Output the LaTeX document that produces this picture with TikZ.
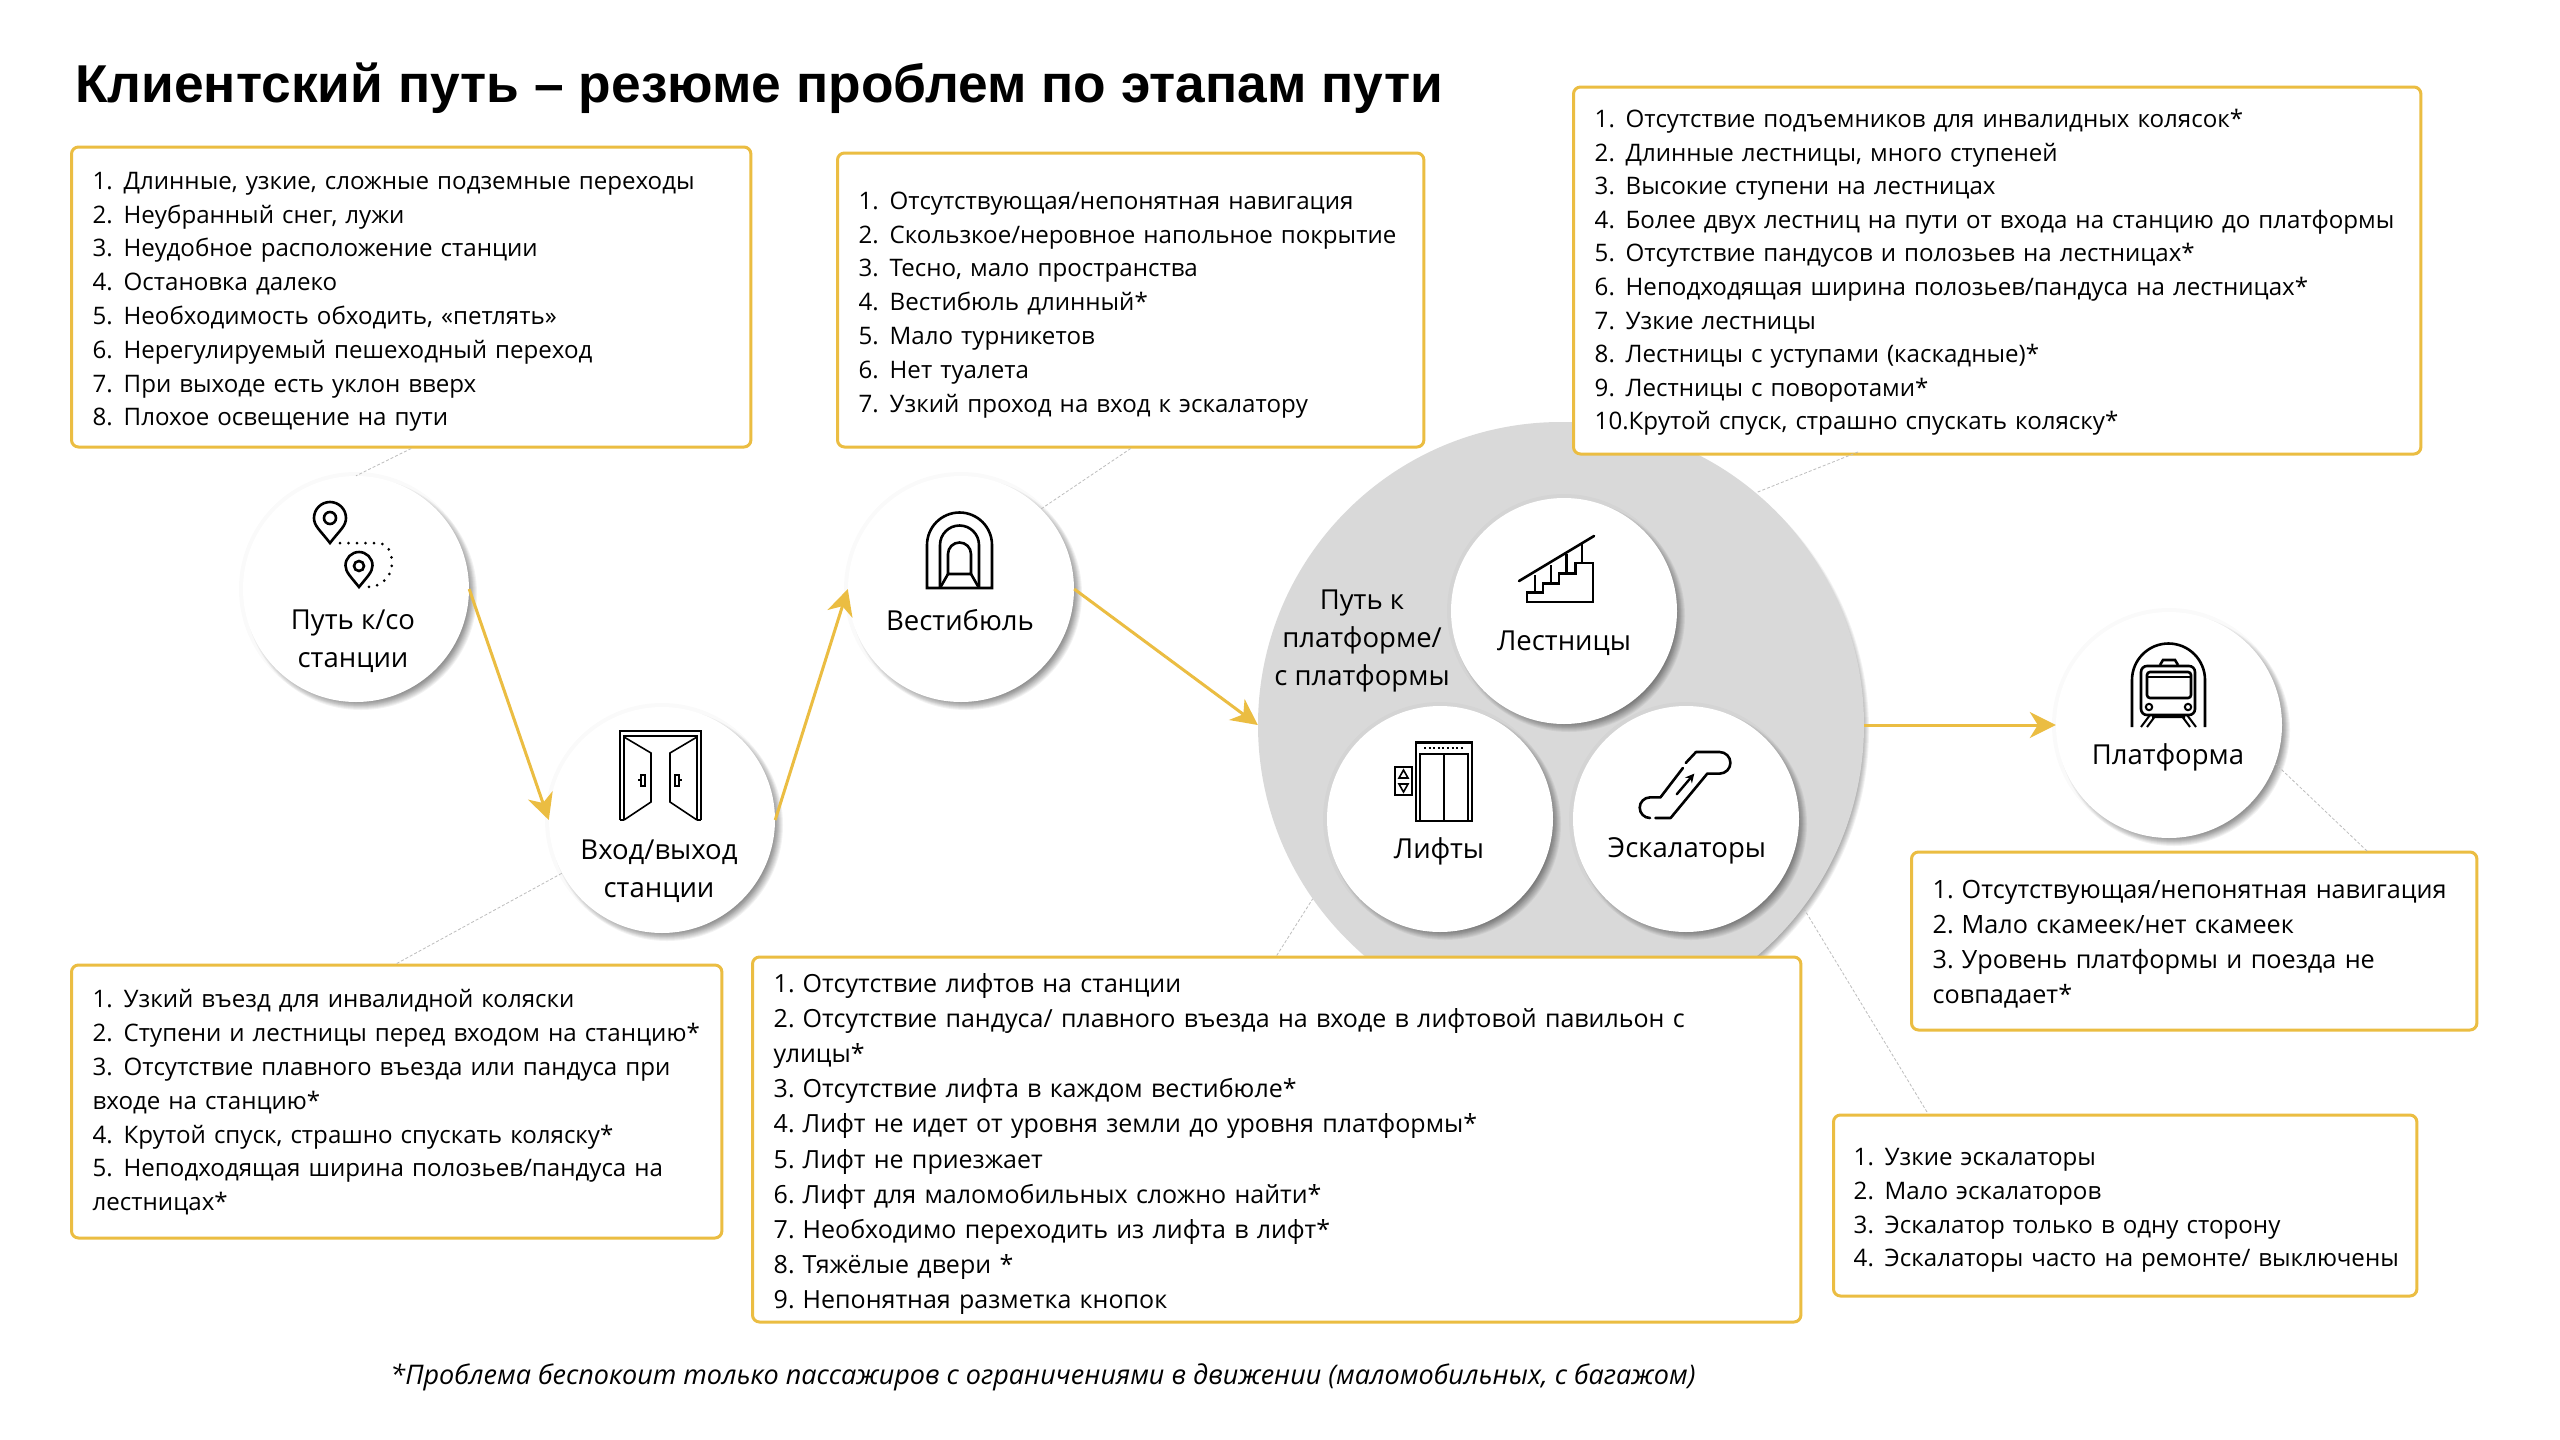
\documentclass[tikz,border=0pt]{standalone}
\usepackage{fontspec}
\setmainfont{Open Sans}
\newfontfamily\titlefont{Liberation Sans}
\usetikzlibrary{arrows.meta}
\definecolor{gold}{HTML}{EBBD42}
\definecolor{biggrey}{HTML}{D9D9D9}
\definecolor{leader}{HTML}{BDBDBD}
\newcommand{\li}[2]{\makebox[31pt][l]{#1.}#2}
\newcommand{\lj}[2]{\makebox[29pt][l]{#1.}#2}
\newcommand{\tall}[1]{\rule{0pt}{#1pt}}
\newcommand{\softshadow}[3]{%
  \foreach \i in {0,...,9}{\fill[black,opacity=.05] ({#1+5},{#2+5}) circle ({#3+3-\i});}%
  \fill[black,opacity=.02] (#1,#2) circle ({#3+4});}
\tikzset{
  x=1pt,y=-1pt,
  bodyfont/.style={font=\fontsize{24.1}{33.8}\selectfont},
  probbox/.style={draw=gold,line width=3pt,rounded corners=7pt,fill=white,anchor=north west,
    inner xsep=21pt,inner ysep=0pt,align=left,bodyfont},
  stopcircle/.style={circle,fill=white,minimum size=226pt,inner sep=0pt},
  biglabel/.style={font=\fontsize{27.5}{38}\selectfont,align=center,inner sep=0pt},
  flow/.style={draw=gold,line width=3pt,-{Stealth[length=26pt,width=26pt,inset=8pt]}},
  leaderline/.style={draw=leader,line width=.8pt,dash pattern=on 3pt off 2pt},
  icon/.style={draw=black,line width=2.6pt,line join=miter},
  iconthin/.style={draw=black,line width=1.6pt},
}
\begin{document}
\begin{tikzpicture}
\useasboundingbox (0,0) rectangle (2560,1440);
\fill[white] (0,0) rectangle (2560,1440);
% title
\node[anchor=base west,inner sep=0pt,font=\titlefont\bfseries\fontsize{53.3}{60}\selectfont] (title) at (75,102) {Клиентский путь – резюме проблем по этапам пути};
% big circle
\foreach \i in {0,...,9}{\fill[black,opacity=.05] ({1561+5},{725+5}) circle ({303-\i});}
\node[circle,fill=biggrey,minimum size=606pt,inner sep=0pt] (big) at (1561,725) {};
% circles
\softshadow{356}{589}{113}
\node[stopcircle] (c1) at (356,589) {};
\softshadow{662}{820}{113}
\node[stopcircle] (c2) at (662,820) {};
\softshadow{961}{589}{113}
\node[stopcircle] (c3) at (961,589) {};
\softshadow{1564}{611}{113}
\node[stopcircle] (stairs) at (1564,611) {};
\softshadow{1440}{819}{113}
\node[stopcircle] (lifts) at (1440,819) {};
\softshadow{1686}{819}{113}
\node[stopcircle] (esc) at (1686,819) {};
\softshadow{2169}{725}{113}
\node[stopcircle] (plat) at (2169,725) {};
% labels
\node[biglabel] (l1) at (353,641) {Путь к/со\\ станции};
\node[biglabel] (l2) at (659,871) {Вход/выход\\станции};
\node[biglabel] (l3) at (960,620) {Вестибюль};
\node[biglabel] (l4) at (1362,641) {Путь к\\платформе/\\с платформы};
\node[biglabel] (l5) at (1564,643) {Лестницы};
\node[biglabel] (l6) at (1439,851) {Лифты};
\node[biglabel] (l7) at (1687,851) {Эскалаторы};
\node[biglabel] (l8) at (2168,757) {Платформа};
% boxes
\node[probbox,minimum width=679.4pt,minimum height=300pt,text width=637pt] (box1) at (70,145.5) {%
\tall{27}\li{1}{Длинные, узкие, сложные подземные переходы}\\
\li{2}{Неубранный снег, лужи}\\
\li{3}{Неудобное расположение станции}\\
\li{4}{Остановка далеко}\\
\li{5}{Необходимость обходить, «петлять»}\\
\li{6}{Нерегулируемый пешеходный переход}\\
\li{7}{При выходе есть уклон вверх}\\
\li{8}{Плохое освещение на пути}};
\node[probbox,minimum width=586.4pt,minimum height=294pt,text width=544pt] (box2) at (836,151.5) {%
\tall{27}\li{1}{Отсутствующая/непонятная навигация}\\
\li{2}{\mbox{Скользкое/неровное напольное покрытие}}\\
\li{3}{Тесно, мало пространства}\\
\li{4}{Вестибюль длинный*}\\
\li{5}{Мало турникетов}\\
\li{6}{Нет туалета}\\
\li{7}{Узкий проход на вход к эскалатору}};
\node[probbox,minimum width=847.4pt,minimum height=367pt,text width=805pt,font=\fontsize{24.1}{33.6}\selectfont] (box3) at (1572,85.5) {%
\tall{22}\li{1}{Отсутствие подъемников для инвалидных колясок*}\\
\li{2}{Длинные лестницы, много ступеней}\\
\li{3}{Высокие ступени на лестницах}\\
\li{4}{Более двух лестниц на пути от входа на станцию до платформы}\\
\li{5}{Отсутствие пандусов и полозьев на лестницах*}\\
\li{6}{Неподходящая ширина полозьев/пандуса на лестницах*}\\
\li{7}{Узкие лестницы}\\
\li{8}{Лестницы с уступами (каскадные)*}\\
\li{9}{Лестницы с поворотами*}\\
10.Крутой спуск, страшно спускать коляску*};
\node[probbox,minimum width=650.4pt,minimum height=273pt,text width=608pt] (box4) at (70,963.5) {%
\tall{20}\li{1}{Узкий въезд для инвалидной коляски}\\
\li{2}{Ступени и лестницы перед входом на станцию*}\\
\li{3}{Отсутствие плавного въезда или пандуса при}\\
входе на станцию*\\
\li{4}{Крутой спуск, страшно спускать коляску*}\\
\li{5}{Неподходящая ширина полозьев/пандуса на}\\
лестницах*};
\node[probbox,minimum width=1048.4pt,minimum height=365pt,text width=1006pt,font=\fontsize{25}{35.2}\selectfont] (box5) at (751,955.5) {%
\tall{28}\lj{1}{Отсутствие лифтов на станции}\\
\lj{2}{Отсутствие пандуса/ плавного въезда на входе в лифтовой павильон с}\\
улицы*\\
\lj{3}{Отсутствие лифта в каждом вестибюле*}\\
\lj{4}{Лифт не идет от уровня земли до уровня платформы*}\\
\lj{5}{Лифт не приезжает}\\
\lj{6}{Лифт для маломобильных сложно найти*}\\
\lj{7}{Необходимо переходить из лифта в лифт*}\\
\lj{8}{Тяжёлые двери *}\\
\lj{9}{Непонятная разметка кнопок}};
\node[probbox,minimum width=565.4pt,minimum height=178pt,text width=523pt,font=\fontsize{25.2}{34.9}\selectfont] (box6) at (1910,850.5) {%
\tall{25}\lj{1}{Отсутствующая/непонятная навигация}\\
\lj{2}{Мало скамеек/нет скамеек}\\
\lj{3}{Уровень платформы и поезда не}\\
совпадает*};
\node[probbox,inner xsep=20pt,minimum width=583.4pt,minimum height=181pt,text width=543pt] (box7) at (1832,1113.5) {%
\tall{27}\li{1}{Узкие эскалаторы}\\
\li{2}{Мало эскалаторов}\\
\li{3}{Эскалатор только в одну сторону}\\
\li{4}{\mbox{Эскалаторы часто на ремонте/ выключены}}};
% footnote
\node[inner sep=0pt,font=\itshape\fontsize{27}{32}\selectfont] (note) at (1043,1377) {*Проблема беспокоит только пассажиров с ограничениями в движении (маломобильных, с багажом)};
% leaders
\coordinate (to3) at (1858,452);
\coordinate (to7) at (1927,1112);
\coordinate (to6) at (2367,851);
\draw[leaderline] (box1.south) -- (c1.north);
\draw[leaderline] (box2.south) -- (c3.45);
\draw[leaderline] (to3) -- (big.50);
\draw[leaderline] (box4.north) -- (c2.208);
\draw[leaderline] (box5.north) -- (big.215.5);
\draw[leaderline] (to7) -- (big.-37);
\draw[leaderline] (to6) -- (plat.-20);
% arrows
\draw[flow] (c1.east) -- (c2.west);
\draw[flow] (c2.east) -- (c3.west);
\draw[flow] (c3.east) -- (big.west);
\draw[flow] (big.east) -- (plat.west);
% pins
\draw[icon] (330,543) .. controls (320,530) and (314,526) .. (314,518) arc[start angle=180,end angle=360,radius=16] .. controls (346,526) and (340,530) .. cycle;
\draw[icon] (330,518) circle (6);
\draw[icon] (359,587) .. controls (351,577) and (345.5,572) .. (345.5,565.5) arc[start angle=180,end angle=360,radius=13.5] .. controls (372.5,572) and (367,577) .. cycle;
\draw[icon] (359,566) circle (5);
\draw[black,line width=3pt,line cap=round,dash pattern=on 0pt off 8.5pt] (340,543) -- (378,543) .. controls (388,544) and (392,552) .. (392,563) .. controls (392,576) and (382,587) .. (368,587);
% door
\draw[iconthin] (620,820) -- (620,731) -- (701,731) -- (701,820);
\draw[iconthin] (620,820) -- (624,820) (697,820) -- (701,820);
\draw[iconthin] (624,820) -- (624,736) -- (697,736) -- (697,820);
\draw[iconthin] (624,737) -- (651,753) -- (651,802) -- (624,820);
\draw[iconthin] (697,737) -- (670,753) -- (670,802) -- (697,820);
\draw[iconthin] (641,775) rectangle (645,786) (638,780) -- (641,780);
\draw[iconthin] (675,775) rectangle (679,786) (679,780) -- (682,780);
% tunnel
\draw[icon] (927,588) -- (927,545) arc[start angle=180,end angle=360,radius=32.5] -- (992,588) -- cycle;
\draw[icon] (940,588) -- (940,545) arc[start angle=180,end angle=360,radius=19.5] -- (979,588);
\draw[icon] (948,574) -- (948,554) arc[start angle=180,end angle=360,radius=11.5] -- (971,574) -- cycle;
\draw[icon] (948,574) -- (940,588) (971,574) -- (979,588);
% stairs
\draw[icon,line cap=round] (1519,581) -- (1594,536);
\draw[icon] (1527,602) -- (1527,592.5) -- (1543,592.5) -- (1543,583.5) -- (1559,583.5) -- (1559,573.5) -- (1575.5,573.5) -- (1575.5,563) -- (1593,563) -- (1593,602) -- cycle;
\draw[icon] (1535,592) -- (1535,575) (1551,583) -- (1551,565) (1566.5,573) -- (1566.5,554) (1582,563) -- (1582,543);
% lift
\draw[icon] (1416,742.5) rectangle (1472,821);
\draw[iconthin,line width=2.2pt] (1420,821) -- (1420,754) -- (1468,754) -- (1468,821) (1444,754) -- (1444,821);
\draw[black,line width=2pt,dash pattern=on 2pt off 2.6pt] (1424,748) -- (1465,748);
\draw[icon] (1395,767) rectangle (1412,795);
\draw[iconthin] (1403.5,770) -- (1399,778) -- (1408,778) -- cycle;
\draw[iconthin] (1403.5,792) -- (1399,784) -- (1408,784) -- cycle;
% escalator
\draw[icon,line cap=round,line join=round] (1685.7,763) -- (1696,752) -- (1719.6,752) arc[start angle=270,end angle=450,radius=10.8] -- (1707.3,773.6) -- (1670.6,818) -- (1655.5,818);
\draw[icon,line cap=round,line join=round] (1650,818) arc[start angle=90,end angle=270,radius=10.3] -- (1660.4,797.4) -- (1682.9,768);
\draw[line width=2.4pt,line cap=round,-{Stealth[length=9pt,width=9pt]}] (1676.7,794.3) -- (1694.3,773.6);
% train
\draw[icon] (2132,727) -- (2132,680) arc[start angle=180,end angle=360,radius=36.5] -- (2205,727);
\draw[icon,rounded corners=6pt] (2141,666) rectangle (2195,715);
\draw[icon,rounded corners=3pt] (2147,672) rectangle (2191,698);
\draw[iconthin,line width=2pt] (2147,677) -- (2191,677);
\draw[icon] (2160,665) -- (2163,660) -- (2175,660) -- (2178,665);
\draw[iconthin,line width=2pt] (2149,707) circle (3.2) (2188,707) circle (3.2);
\draw[iconthin,line width=2pt] (2150,715) -- (2141,727) (2156,715) -- (2147,727) (2187,715) -- (2196,727) (2181,715) -- (2190,727) (2152,717) -- (2185,717);
\end{tikzpicture}
\end{document}
